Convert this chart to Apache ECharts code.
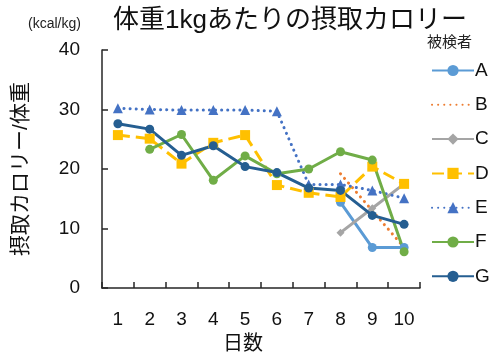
<!DOCTYPE html>
<html>
<head>
<meta charset="utf-8">
<script src="https://cdn.jsdelivr.net/npm/echarts@6/dist/echarts.min.js"></script>
<style>
  html, body { margin: 0; padding: 0; background: #fff; }
  #chart { width: 490px; height: 359px; }
</style>
</head>
<body>
<div id="chart"></div>
<script>
// Days on the x axis
const days = ['1', '2', '3', '4', '5', '6', '7', '8', '9', '10'];

// Calorie intake per kg of body weight, one array per subject
const subjectA = [null, null, null, null, null, null, null, 14.4, 6.8, 6.8];
const subjectB = [null, null, null, null, null, null, null, 19.2, 13.0, 6.8];
const subjectC = [null, null, null, null, null, null, null, 9.3, 13.4, 17.5];
const subjectD = [25.7, 25.1, 20.9, 24.4, 25.7, 17.3, 16.0, 15.3, 20.4, 17.5];
const subjectE = [30.2, 30.0, 29.9, 29.9, 29.9, 29.7, 17.4, 17.4, 16.4, 15.1];
const subjectF = [null, 23.3, 25.8, 18.1, 22.2, 19.2, 20.0, 22.9, 21.5, 6.1];
const subjectG = [27.6, 26.7, 22.3, 23.9, 20.4, 19.4, 16.8, 16.4, 12.2, 10.7];

const yTicks = [0, 10, 20, 30, 40];

const FONT = "'Liberation Sans', 'Noto Sans CJK JP', sans-serif";
const AXIS_COLOR = '#262626';
const DOT = [0.1, 6];

function makeSeries(name, data, color, opts) {
  return Object.assign({
    name: name,
    type: 'line',
    data: data,
    connectNulls: false,
    symbol: 'circle',
    symbolSize: 9,
    itemStyle: { color: color },
    lineStyle: { color: color, width: 3 },
    emphasis: { disabled: true },
    animation: false
  }, opts || {});
}

const chart = echarts.init(document.getElementById('chart'));
chart.setOption({
  backgroundColor: '#fff',
  textStyle: { fontFamily: FONT },
  title: [
    {
      text: '体重1kgあたりの摂取カロリー',
      left: 285, top: 3, textAlign: 'center',
      textStyle: { fontFamily: FONT, fontSize: 26, fontWeight: 'normal', color: '#111' }
    },
    {
      text: '(kcal/kg)',
      left: 23, top: 12,
      textStyle: { fontFamily: FONT, fontSize: 14, fontWeight: 'normal', color: '#222' }
    }
  ],
  legend: {
    orient: 'vertical',
    left: 426, top: 56,
    itemWidth: 42, itemHeight: 14,
    itemGap: 15.3,
    textStyle: { fontFamily: FONT, fontSize: 19, color: '#111', padding: [0, 0, 0, -4] },
    data: ['A', 'B', 'C', 'D', 'E', 'F', 'G']
  },
  graphic: [{
    type: 'text',
    left: 427, top: 34,
    style: { text: '被検者', font: "15px 'Noto Sans CJK JP'", fill: '#222' }
  }],
  grid: { left: 102, right: 70, top: 50, bottom: 69, containLabel: false },
  xAxis: {
    type: 'category',
    data: days,
    boundaryGap: true,
    name: '日数',
    nameLocation: 'middle',
    nameGap: 46,
    nameTextStyle: { fontFamily: FONT, fontSize: 20, color: '#111', padding: [0, 36, 0, 0] },
    axisLine: { lineStyle: { color: AXIS_COLOR, width: 1.5 } },
    axisTick: { show: true, inside: true, length: 6, alignWithLabel: false, lineStyle: { color: AXIS_COLOR, width: 1.5 } },
    axisLabel: { fontFamily: FONT, fontSize: 19, color: '#111', margin: 22 },
    splitLine: { show: false }
  },
  yAxis: {
    type: 'value',
    min: yTicks[0], max: yTicks[yTicks.length - 1], interval: 10,
    name: '摂取カロリー/体重',
    nameLocation: 'middle',
    nameGap: 70,
    nameRotate: 90,
    nameTextStyle: { fontFamily: FONT, fontSize: 21, color: '#111' },
    axisLine: { show: true, lineStyle: { color: AXIS_COLOR, width: 1.5 } },
    axisTick: { show: true, inside: true, length: 6, lineStyle: { color: AXIS_COLOR, width: 1.5 } },
    axisLabel: { fontFamily: FONT, fontSize: 19, color: '#111', margin: 22 },
    splitLine: { show: false }
  },
  series: [
    makeSeries('A', subjectA, '#5B9BD5'),
    // B is a dotted line with no markers; keep the symbol but make it invisible
    makeSeries('B', subjectB, '#ED7D31', {
      itemStyle: { color: '#ED7D31', opacity: 0 },
      lineStyle: { color: '#ED7D31', width: 3, type: DOT, cap: 'round' }
    }),
    makeSeries('C', subjectC, '#A5A5A5', { symbol: 'diamond', symbolSize: 8 }),
    makeSeries('D', subjectD, '#FFC000', {
      symbol: 'rect', symbolSize: 10,
      lineStyle: { color: '#FFC000', width: 3, type: [12, 6] }
    }),
    makeSeries('E', subjectE, '#4472C4', {
      symbol: 'triangle', symbolSize: 10,
      lineStyle: { color: '#4472C4', width: 3, type: DOT, cap: 'round' }
    }),
    makeSeries('F', subjectF, '#70AD47'),
    makeSeries('G', subjectG, '#255E91')
  ]
});
</script>
</body>
</html>
